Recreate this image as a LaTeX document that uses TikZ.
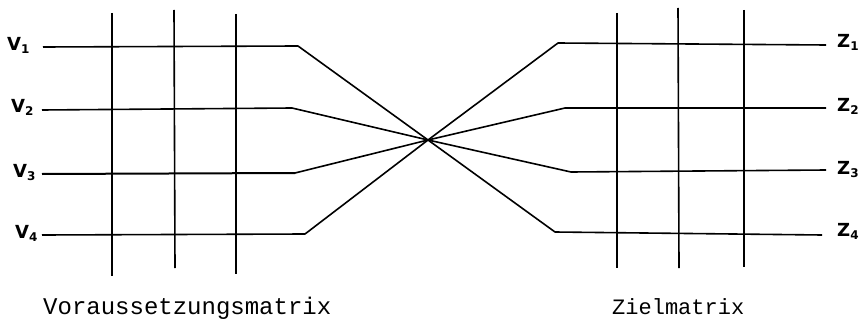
\documentclass[tikz,border=0pt]{standalone}
\usepackage{fontspec}
\newfontfamily\monofont{Liberation Mono}
\newfontfamily\handfont{DejaVu Sans}
\newcommand{\lbl}[2]{{\handfont\bfseries\fontsize{18}{18}\selectfont #1\raisebox{-3pt}{\fontsize{12}{12}\selectfont #2}}}
\tikzset{
  wire/.style={line width=1.6pt, line join=round},
  grid/.style={line width=1.6pt},
  lab/.style={inner sep=0pt, anchor=base west},
  title/.style={inner sep=0pt, anchor=base west, font=\monofont},
}
\begin{document}
\begin{tikzpicture}[x=1pt,y=-1pt]
\useasboundingbox (0,0) rectangle (866,326);
% centre of crossing
\coordinate (c) at (428,140);
% left horizontal lines
\coordinate (v1a) at (43,47);  \coordinate (v1b) at (298,46);
\coordinate (v2a) at (42,110); \coordinate (v2b) at (292,108);
\coordinate (v3a) at (42,174); \coordinate (v3b) at (295,173);
\coordinate (v4a) at (42,235); \coordinate (v4b) at (305,234);
% right horizontal lines
\coordinate (z1a) at (558,43);  \coordinate (z1b) at (826,45);
\coordinate (z2a) at (565,108); \coordinate (z2b) at (826,108);
\coordinate (z3a) at (571,172); \coordinate (z3b) at (826,170);
\coordinate (z4a) at (555,232); \coordinate (z4b) at (822,235);
% vertical lines
\coordinate (l1t) at (112,13);  \coordinate (l1b) at (112,276);
\coordinate (l2t) at (174,10);  \coordinate (l2b) at (175,268);
\coordinate (l3t) at (236,14);  \coordinate (l3b) at (236,274);
\coordinate (r1t) at (617,13);  \coordinate (r1b) at (617,268);
\coordinate (r2t) at (678,8);   \coordinate (r2b) at (679,268);
\coordinate (r3t) at (744,10);  \coordinate (r3b) at (744,267);
\draw[grid] (l1t) -- (l1b);
\draw[grid] (l2t) -- (l2b);
\draw[grid] (l3t) -- (l3b);
\draw[grid] (r1t) -- (r1b);
\draw[grid] (r2t) -- (r2b);
\draw[grid] (r3t) -- (r3b);
% wires
\draw[wire] (v1a) -- (v1b) -- (c) -- (z4a) -- (z4b);
\draw[wire] (v2a) -- (v2b) -- (c) -- (z3a) -- (z3b);
\draw[wire, line width=2pt] (v3a) -- (v3b);
\draw[wire] (v3b) -- (c) -- (z2a) -- (z2b);
\draw[wire] (v4a) -- (v4b) -- (c) -- (z1a) -- (z1b);
% labels
\node[lab] (V1) at (7,51)   {\lbl{V}{1}};
\node[lab] (V2) at (11,113) {\lbl{V}{2}};
\node[lab] (V3) at (13,177) {\lbl{V}{3}};
\node[lab] (V4) at (15,238) {\lbl{V}{4}};
\node[lab] (Z1) at (837,48)  {\lbl{Z}{1}};
\node[lab] (Z2) at (837,111) {\lbl{Z}{2}};
\node[lab] (Z3) at (837,174) {\lbl{Z}{3}};
\node[lab] (Z4) at (837,236) {\lbl{Z}{4}};
% titles
\node[title, font=\monofont\fontsize{24}{24}\selectfont] (vm) at (43,314) {Voraussetzungsmatrix};
\node[title, font=\monofont\fontsize{22}{22}\selectfont] (zm) at (612,314) {Zielmatrix};
\end{tikzpicture}
\end{document}
